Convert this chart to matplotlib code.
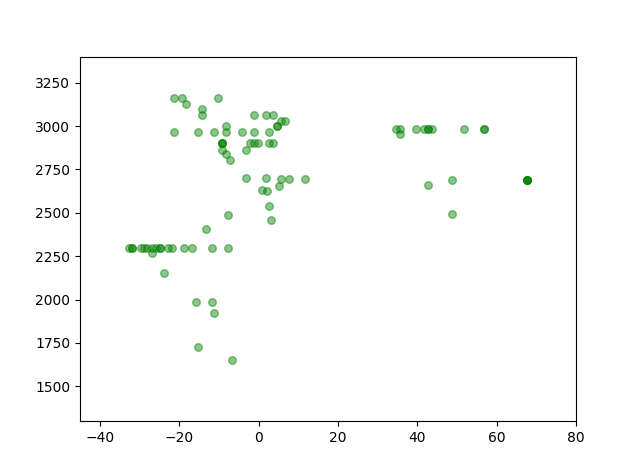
import numpy as np
import matplotlib
matplotlib.use("Agg")
import matplotlib.pyplot as plt

# points (x, y)
x = [-21.3, -19.2, -18.2, -10.2, -14.2, -14.2, -1.2, 1.9, 3.7, 5.7, 6.7, 4.7, 4.7,
     -21.3, -15.2, -11.2, -8.2, -8.2, -4.1, -1.2, 2.7,
     -9.2, -9.2, -9.2, -9.2, -8.2, -7.2, -2.1, -1.1, -0.1, 2.7, 3.7, -3.1,
     -3.1, 1.9, 5.7, 7.7, 11.7, 5.2, 0.9, 2.2, 2.7, -7.7, 3.2, -13.2,
     -32.6, -31.8, -31.8, -29.7, -28.8, -28.0, -26.9, -25.9, -24.9, -24.9, -22.8, -21.8,
     -18.8, -16.7, -11.7, -7.7, -26.9, -23.8, -15.7, -11.7, -11.2, -15.2, -6.7,
     34.7, 35.7, 39.7, 41.7, 42.8, 42.8, 43.8, 51.8, 56.9, 56.9, 35.7,
     48.8, 42.8, 48.8, 67.7, 67.7, 67.7, 67.7]
y = [3164, 3164, 3128, 3164, 3101, 3065, 3065, 3065, 3065, 3030, 3030, 2998, 2998,
     2969, 2969, 2969, 2998, 2969, 2969, 2969, 2969,
     2900, 2900, 2900, 2864, 2837, 2803, 2900, 2900, 2900, 2900, 2900, 2864,
     2703, 2703, 2693, 2693, 2693, 2652, 2634, 2625, 2537, 2485, 2456, 2408,
     2296, 2296, 2296, 2296, 2296, 2296, 2296, 2296, 2296, 2296, 2296, 2296,
     2296, 2296, 2296, 2296, 2267, 2152, 1986, 1986, 1923, 1728, 1653,
     2984, 2984, 2984, 2984, 2984, 2984, 2984, 2984, 2984, 2984, 2956,
     2692, 2663, 2491, 2692, 2692, 2692, 2692]

fig = plt.figure(figsize=(6.4, 4.73))
ax = fig.add_subplot(111)
ax.scatter(x, y, c="green", alpha=0.45, s=30)
ax.set_xlim(-45, 80)
ax.set_ylim(1300, 3400)
fig.savefig("out.png")
